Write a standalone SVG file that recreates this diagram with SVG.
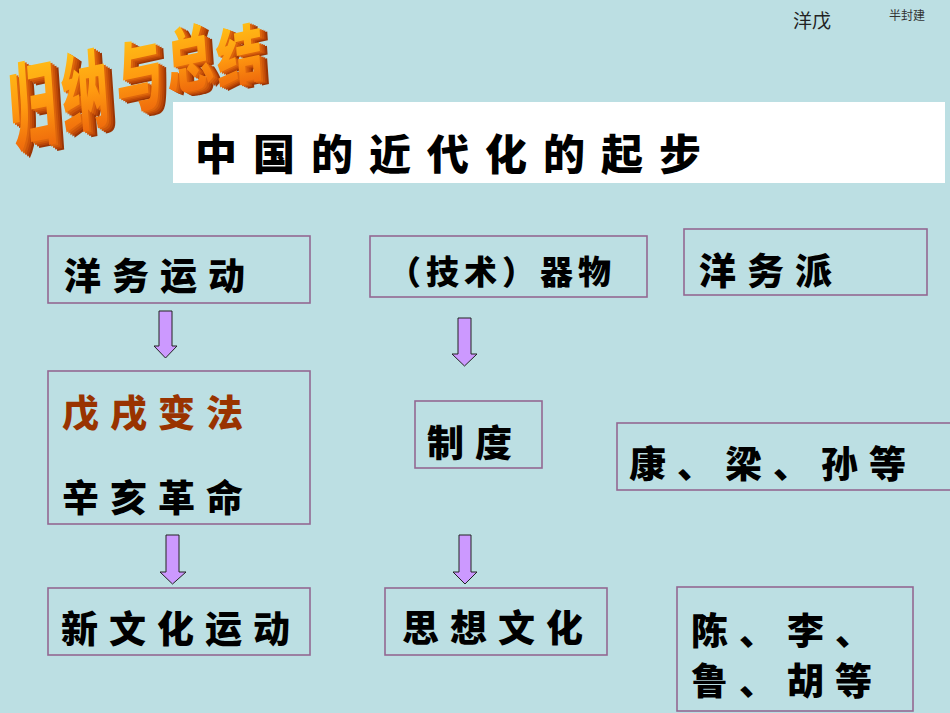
<svg xmlns="http://www.w3.org/2000/svg" width="950" height="713" viewBox="0 0 950 713">
<defs>
<linearGradient id="og" x1="0" y1="0" x2="0" y2="1">
<stop offset="0" stop-color="#FFD21A"/>
<stop offset="0.55" stop-color="#FF9A10"/>
<stop offset="1" stop-color="#E8560A"/>
</linearGradient>
<style>
.box{fill:none;stroke:#936892;stroke-width:1.6}
.t{font-family:"Noto Sans CJK SC","Noto Sans CJK JP",sans-serif;font-weight:900;font-size:37px;letter-spacing:11px;fill:#000}
.arr{fill:#CC99FF;stroke:#222;stroke-width:1}
.wa{font-family:"Noto Sans CJK SC",sans-serif;font-weight:900;font-size:50px}
.e1{fill:#9A3504}.e2{fill:#B84507}.e3{fill:#CC5509}.e4{fill:#DD650B}.f{fill:url(#og)}
</style>
</defs>
<rect width="950" height="713" fill="#BCDFE3"/>
<g id="wordart">
<g transform="translate(12,144) rotate(-12) skewX(-8) scale(0.95,1.85)">
<text class="wa e1" x="8" y="4">归</text><text class="wa e2" x="6" y="3">归</text><text class="wa e3" x="4" y="2">归</text><text class="wa e4" x="2" y="1">归</text><text class="wa f" x="0" y="0">归</text>
</g>
<g transform="translate(64,128) rotate(-12) skewX(-8) scale(0.95,1.7)">
<text class="wa e1" x="8" y="4">纳</text><text class="wa e2" x="6" y="3">纳</text><text class="wa e3" x="4" y="2">纳</text><text class="wa e4" x="2" y="1">纳</text><text class="wa f" x="0" y="0">纳</text>
</g>
<g transform="translate(118,110) rotate(-12) skewX(-8) scale(0.95,1.55)">
<text class="wa e1" x="8" y="4">与</text><text class="wa e2" x="6" y="3">与</text><text class="wa e3" x="4" y="2">与</text><text class="wa e4" x="2" y="1">与</text><text class="wa f" x="0" y="0">与</text>
</g>
<g transform="translate(168,90) rotate(-12) skewX(-8) scale(0.95,1.4)">
<text class="wa e1" x="8" y="4">总</text><text class="wa e2" x="6" y="3">总</text><text class="wa e3" x="4" y="2">总</text><text class="wa e4" x="2" y="1">总</text><text class="wa f" x="0" y="0">总</text>
</g>
<g transform="translate(218,84) rotate(-12) skewX(-8) scale(0.95,1.25)">
<text class="wa e1" x="8" y="4">结</text><text class="wa e2" x="6" y="3">结</text><text class="wa e3" x="4" y="2">结</text><text class="wa e4" x="2" y="1">结</text><text class="wa f" x="0" y="0">结</text>
</g>
</g>
<g id="corner">
<text x="793" y="28" font-family="Noto Sans CJK SC,sans-serif" font-size="19" fill="#222">洋戊</text>
<text x="889" y="20" font-family="Noto Sans CJK SC,sans-serif" font-size="12" fill="#333">半封建</text>
</g>
<g id="title">
<rect x="173" y="102" width="772" height="81" fill="#FFFFFF"/>
<text x="195" y="170" font-family="Noto Sans CJK SC,sans-serif" font-weight="900" font-size="42" letter-spacing="16" fill="#000">中国的近代化的起步</text>
</g>
<g id="n1"><rect class="box" x="48" y="236" width="262" height="67"/><text class="t" x="64" y="290">洋务运动</text></g>
<g id="n2"><rect class="box" x="370" y="236" width="277" height="61"/><text class="t" x="388" y="284" style="font-size:33px;letter-spacing:5px">（技术）器物</text></g>
<g id="n3"><rect class="box" x="684" y="229" width="243" height="66"/><text class="t" x="699" y="285">洋务派</text></g>
<g id="n4"><rect class="box" x="48" y="371" width="262" height="153"/><text class="t" x="62" y="427" style="fill:#993300">戊戌变法</text><text class="t" x="62" y="512">辛亥革命</text></g>
<g id="n5"><rect class="box" x="415" y="401" width="127" height="67"/><text class="t" x="427" y="457">制度</text></g>
<g id="n6"><rect class="box" x="617" y="423" width="335" height="67"/><text class="t" x="629" y="478">康、梁、孙等</text></g>
<g id="n7"><rect class="box" x="48" y="588" width="262" height="67"/><text class="t" x="61" y="643">新文化运动</text></g>
<g id="n8"><rect class="box" x="385" y="588" width="222" height="67"/><text class="t" x="402" y="642">思想文化</text></g>
<g id="n9"><rect class="box" x="677" y="587" width="236" height="124"/><text class="t" x="691" y="645">陈、李、</text><text class="t" x="691" y="695">鲁、胡等</text></g>
<g id="connectors">
<polygon class="arr" points="159,311 172,311 172,346 177,346 165.5,358 154,346 159,346"/>
<polygon class="arr" points="458,318 471,318 471,354 477,354 464.5,366 452,354 458,354"/>
<polygon class="arr" points="166,535 179,535 179,572 186,572 172.5,584 160,572 166,572"/>
<polygon class="arr" points="459,535 471,535 471,572 477,572 465,584 453,572 459,572"/>
</g>
</svg>
